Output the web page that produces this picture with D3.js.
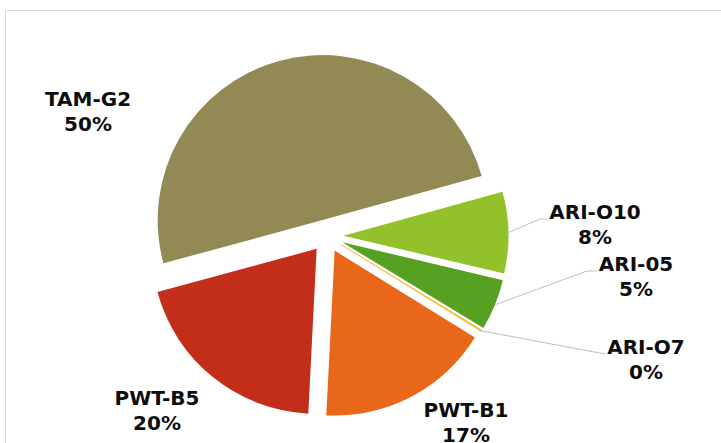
<!DOCTYPE html>
<html>
<head>
<meta charset="utf-8">
<script src="https://cdn.jsdelivr.net/npm/d3@7"></script>
<style>
  body { margin: 0; background: #fff; }
  text { font-family: "DejaVu Sans", Verdana, sans-serif; font-weight: bold; }
</style>
</head>
<body>
<div id="chart"></div>
<script>
// data
var categories = ["TAM-G2", "ARI-O10", "ARI-05", "ARI-O7", "PWT-B1", "PWT-B5"]
var values = [50, 8, 5, 0.15, 17, 20]
var colors = ["#938954", "#92C12B", "#56A022", "#F3B72D", "#E8671A", "#C22E1A"]

var width = 721
var height = 443
var cx = 327, cy = 236
var radius = 165
var explode = 16.5

// where each label sits (text centre x, first baseline y) and its leader elbow, if any
var labelLayout = {
    "TAM-G2": {x: 88, y: 106},
    "ARI-O10": {x: 595, y: 219, elbow: [540, 219], end: [547, 219]},
    "ARI-05": {x: 636, y: 271, elbow: [587, 271], end: [597, 271]},
    "ARI-O7": {x: 646, y: 354, elbow: [605, 354], end: [606, 354]},
    "PWT-B1": {x: 466, y: 417},
    "PWT-B5": {x: 157, y: 405}
}

var svg = d3.select("#chart")
    .append("svg")
    .attr("width", width)
    .attr("height", height)

// chart frame, only top and left edges are inside the window
svg.append("rect")
    .attr("x", 5.5).attr("y", 10.5)
    .attr("width", 800).attr("height", 500)
    .attr("fill", "none")
    .attr("stroke", "#D9D9D9")

var table = categories.map((c, i) => ({name: c, value: values[i], color: colors[i]}))
var total = d3.sum(values)
var fmt = d3.format(".0%")

var start = 254.8 * Math.PI / 180
var pie = d3.pie()
    .sort(null)
    .value(d => d.value)
    .startAngle(start)
    .endAngle(start + 2 * Math.PI)

var arc = d3.arc().innerRadius(0).outerRadius(radius)
var data_ready = pie(table)

function offset(d, r) {
    var a = (d.startAngle + d.endAngle) / 2
    return [Math.sin(a) * r, -Math.cos(a) * r]
}

var g = svg.append("g").attr("transform", "translate(" + cx + "," + cy + ")")

g.selectAll("path")
    .data(data_ready)
    .enter()
    .append("path")
    .attr("transform", d => "translate(" + offset(d, explode) + ")")
    .attr("d", arc)
    .attr("fill", d => d.data.color)
    .attr("stroke", d => d.data.value < 1 ? d.data.color : "none")
    .attr("stroke-width", 0.6)

// leader lines
data_ready.forEach(function(d) {
    var lay = labelLayout[d.data.name]
    if (!lay.elbow) return
    var p = offset(d, explode + radius)
    var pts = [[cx + p[0], cy + p[1]], lay.elbow, lay.end]
    svg.append("path")
        .attr("d", d3.line()(pts))
        .attr("fill", "none")
        .attr("stroke", "#BFBFBF")
        .attr("stroke-width", 1)
})

var labels = svg.append("g")
    .attr("font-size", 20)
    .attr("text-anchor", "middle")
    .attr("fill", "#0D0D0D")
  .selectAll("text")
  .data(data_ready)
  .enter()
  .append("text")
    .attr("transform", d => "translate(" + labelLayout[d.data.name].x + "," + labelLayout[d.data.name].y + ")")

labels.selectAll("tspan")
    .data(d => [d.data.name, fmt(d.data.value / total)])
    .enter()
    .append("tspan")
    .attr("x", 0)
    .attr("y", (_, i) => i * 24.5)
    .text(d => d)
</script>
</body>
</html>
